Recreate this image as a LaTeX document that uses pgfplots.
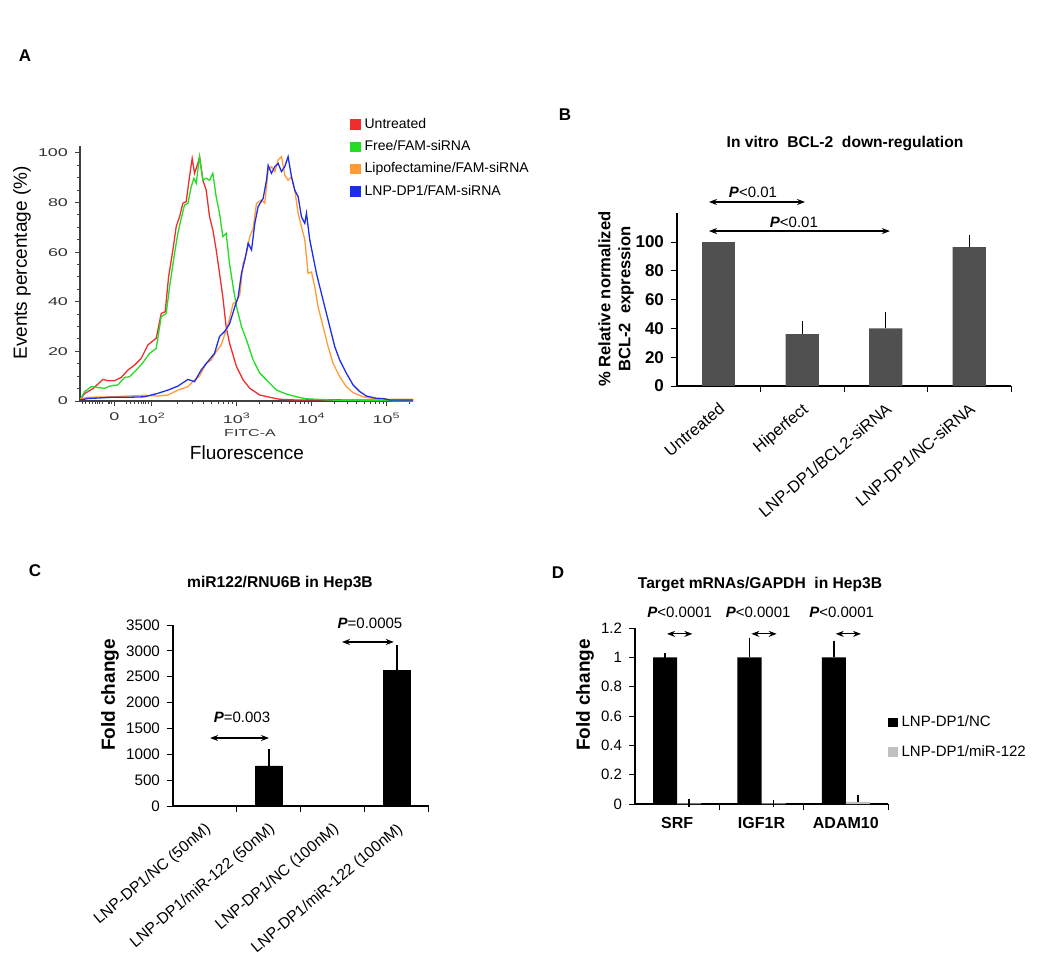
\documentclass[border=0pt]{standalone}
\usepackage{fontspec}
\setmainfont{Liberation Sans}
\newfontfamily\widefont[FakeStretch=1.6]{Liberation Sans}
\usepackage{pgfplots}
\pgfplotsset{compat=1.18}
\usetikzlibrary{arrows.meta}
\definecolor{cRed}{RGB}{240,45,45}
\definecolor{cGreen}{RGB}{35,220,35}
\definecolor{cOrange}{RGB}{255,155,55}
\definecolor{cBlue}{RGB}{30,45,235}
\definecolor{barB}{RGB}{80,80,80}
\definecolor{barGray}{RGB}{192,192,192}
\pgfplotsset{
  errs/.style={error bars/.cd, y dir=plus, y explicit,
    error bar style={draw=black, line width=0.7pt},
    error mark options={draw=black, line width=0.7pt, mark size=1.8pt}},
}
\tikzset{pp/.style={{Stealth[length=4pt,width=3pt]}-{Stealth[length=4pt,width=3pt]}, line width=0.6pt}}
\begin{document}
\begin{tikzpicture}
\path[use as bounding box] (0,0) rectangle (525pt,-477.5pt);

% panel letters
\node[font=\bfseries\fontsize{8.5}{9}\selectfont] at (12.5pt,-28pt) {A};
\node[font=\bfseries\fontsize{8.5}{9}\selectfont] at (282.5pt,-57.5pt) {B};
\node[font=\bfseries\fontsize{8.5}{9}\selectfont] at (17.5pt,-285.5pt) {C};
\node[font=\bfseries\fontsize{8.5}{9}\selectfont] at (279pt,-286.5pt) {D};

% ---------- A: flow histogram
\begin{axis}[
  at={(40pt,-200.5pt)}, anchor=south west,
  scale only axis, width=166.5pt, height=127.75pt,
  xmin=0.907, xmax=5.351, ymin=0, ymax=103,
  axis lines*=left, axis line style={-, line width=0.6pt, black!75},
  xtick={1.364,1.867,3,4,5},
  xticklabels={0,10\textsuperscript{2},10\textsuperscript{3},10\textsuperscript{4},10\textsuperscript{5}},
  minor xtick={0.942,0.987,1.031,1.076,1.111,1.142,1.173,1.209,1.284,1.307,1.329,1.529,1.587,1.64,1.684,1.729,1.76,1.787,1.818,
    2.208,2.408,2.549,2.659,2.749,2.825,2.890,2.948,
    3.301,3.477,3.602,3.699,3.778,3.845,3.903,3.954,
    4.301,4.477,4.602,4.699,4.778,4.845,4.903,4.954,5.301},
  ytick={0,20,...,100}, minor y tick num=3,
  tick align=outside, major tick length=2.5pt, minor tick length=1.5pt,
  tick style={black!75, line width=0.5pt},
  tick label style={font=\widefont\fontsize{5.6}{6}\selectfont, text=black!80},
  /pgf/number format/assume math mode=true,
  legend style={at={(0.81,1.125)}, anchor=north west, draw=none, fill=none,
    font=\fontsize{7}{8}\selectfont, row sep=0.6pt, inner sep=0pt},
  legend cell align=left,
  legend image code/.code={\fill[#1] (0pt,-2.3pt) rectangle (4.6pt,2.3pt);},
]
\addplot[cRed, line width=0.65pt] coordinates {(0.907,0.4)(0.969,3)(1.08,5)(1.213,8.7)(1.28,8.2)(1.369,8.2)(1.457,9.5)(1.547,12.5)(1.636,14.5)(1.724,17.2)(1.813,22.6)(1.924,25.3)(1.991,35.3)(2.044,36)(2.089,50)(2.147,61)(2.191,70.3)(2.236,74.3)(2.28,79.7)(2.324,80.4)(2.369,90.5)(2.404,97.8)(2.436,91.8)(2.48,95.8)(2.503,98.5)(2.547,89)(2.591,85)(2.636,74.3)(2.68,69)(2.724,61)(2.769,51.5)(2.813,42)(2.857,30)(2.903,23.3)(2.996,13.8)(3.084,8.5)(3.173,5.1)(3.307,2.4)(3.44,1.5)(3.573,0.7)(3.796,0.4)(4.062,0.5)(5.351,0.3)};
\addplot[cGreen, line width=0.65pt] coordinates {(0.907,0.4)(0.969,3.8)(1.058,5.8)(1.236,5.1)(1.302,6)(1.413,6.5)(1.502,9.5)(1.569,9.8)(1.658,12.5)(1.747,15.5)(1.836,19.2)(1.924,21.2)(1.991,34)(2.058,35.3)(2.102,46)(2.169,59.5)(2.213,67.6)(2.258,73.6)(2.302,79)(2.347,79.7)(2.391,86.4)(2.427,89.8)(2.458,87.8)(2.502,98.5)(2.547,89)(2.591,89.8)(2.636,89)(2.68,91.8)(2.724,82.4)(2.769,75.7)(2.813,66.3)(2.858,67.6)(2.902,55.5)(2.951,46)(2.996,38)(3.062,30)(3.129,24.6)(3.218,16.5)(3.307,11.2)(3.396,8.5)(3.529,4.4)(3.662,2.8)(3.796,1.7)(3.929,0.9)(4.062,0.7)(4.24,0.4)(4.5,0.2)(5.351,0)};
\addplot[cOrange, line width=0.65pt] coordinates {(0.907,0.7)(1.013,1.5)(1.324,1.7)(1.547,2)(1.769,2.3)(1.947,2)(2.08,2.4)(2.213,4.4)(2.347,5.8)(2.436,8.5)(2.502,10)(2.591,15.2)(2.658,16.5)(2.724,19.9)(2.791,22.6)(2.858,28.6)(2.902,33)(2.951,39.4)(2.996,40)(3.04,43)(3.084,55.5)(3.129,59.5)(3.173,66.3)(3.218,69.6)(3.262,79.7)(3.329,81)(3.373,79.7)(3.418,93)(3.462,94.5)(3.507,92.5)(3.551,97.2)(3.596,98.5)(3.64,91)(3.684,89)(3.729,90.5)(3.773,85)(3.818,75.7)(3.862,70.3)(3.907,65)(3.951,51.5)(3.996,52)(4.04,46)(4.084,38)(4.151,30)(4.218,21.9)(4.284,15.2)(4.373,9.8)(4.462,5.8)(4.551,3.4)(4.684,1.7)(4.818,1)(5.04,0.7)(5.351,0.7)};
\addplot[cBlue, line width=0.65pt] coordinates {(0.907,0.4)(1.013,1)(1.147,1.2)(1.324,1.5)(1.547,1.5)(1.769,1.7)(1.947,3.1)(2.08,4.4)(2.213,6)(2.347,8.7)(2.436,7.8)(2.524,12.5)(2.613,15.9)(2.702,19.2)(2.769,26)(2.836,28)(2.902,31)(2.973,38)(3.018,42)(3.062,51.5)(3.107,56.9)(3.151,63.6)(3.196,60.9)(3.24,71.6)(3.284,78.4)(3.351,81.7)(3.396,89)(3.418,95)(3.462,91.8)(3.507,94.5)(3.551,95.8)(3.596,92.5)(3.64,94.5)(3.684,98.5)(3.729,90.5)(3.773,85)(3.818,82.4)(3.862,74.3)(3.907,71.6)(3.929,75.7)(3.973,65)(4.018,58.2)(4.062,51.5)(4.107,46)(4.173,38)(4.24,30)(4.307,21.9)(4.373,16.5)(4.462,11.2)(4.551,6.5)(4.64,3.8)(4.729,2)(4.862,1.1)(4.951,1)(5.04,0.4)(5.351,0.4)};
\legend{Untreated,Free/FAM-siRNA,Lipofectamine/FAM-siRNA,LNP-DP1/FAM-siRNA}
\end{axis}
\node[font=\widefont\fontsize{5}{6}\selectfont, text=black!80] at (125pt,-216.5pt) {FITC-A};
\node[font=\fontsize{9.5}{11}\selectfont] at (123.5pt,-226.5pt) {Fluorescence};
\node[font=\fontsize{9.5}{11}\selectfont, rotate=90] at (11pt,-131.5pt) {Events percentage (\%)};

% ---------- B
\begin{axis}[
  at={(338.5pt,-193pt)}, anchor=south west,
  scale only axis, width=167pt, height=86.4pt,
  xmin=-0.5, xmax=3.5, ymin=0, ymax=120,
  axis lines*=left, axis line style={-, line width=0.6pt},
  ybar, bar width=0.4, bar shift=0pt,
  xtick={0,1,2,3},
  xticklabels={Untreated,Hiperfect,LNP-DP1/BCL2-siRNA,LNP-DP1/NC-siRNA},
  x tick label style={rotate=40, anchor=north east, font=\fontsize{8.2}{9}\selectfont},
  major x tick style={draw=none},
  minor xtick={0.5,1.5,2.5,3.5},
  ytick={0,20,...,100},
  y tick label style={font=\bfseries\fontsize{8.5}{9}\selectfont},
  /pgf/number format/assume math mode=true,
  tick align=outside, major tick length=3pt, minor tick length=3pt,
  tick style={line width=0.5pt, black},
  clip=false,
]
\addplot[fill=barB, draw=none] coordinates {(0,100)};
\addplot[fill=barB, draw=none, errs] coordinates {(1,36) +- (0,6.4) (2,40) +- (0,9) (3,96.5) +- (0,6)};
\draw[pp] (-0.117,127.8) -- (1.033,127.8);
\draw[pp] (-0.117,107.6) -- (2.05,107.6);
\node[font=\fontsize{7.5}{9}\selectfont] at (0.41,134.7) {\textbf{\textit{P}}<0.01};
\node[font=\fontsize{7.5}{9}\selectfont] at (0.90,113.9) {\textbf{\textit{P}}<0.01};
\end{axis}
\node[font=\bfseries\fontsize{7.8}{9}\selectfont] at (422.5pt,-71.5pt) {In vitro\ \ BCL-2\ \ down-regulation};
\node[font=\bfseries\fontsize{8.3}{10}\selectfont, rotate=90, align=center] at (308pt,-149.5pt) {\% Relative normalized\\BCL-2\ \ expression};

% ---------- C
\begin{axis}[
  at={(86.5pt,-403pt)}, anchor=south west,
  scale only axis, width=128pt, height=90.5pt,
  xmin=-0.5, xmax=3.5, ymin=0, ymax=3500,
  axis lines*=left, axis line style={-, line width=0.6pt},
  ybar, bar width=0.41, bar shift=0pt,
  xtick={0,1,2,3},
  xticklabels={LNP-DP1/NC (50nM),LNP-DP1/miR-122 (50nM),LNP-DP1/NC (100nM),LNP-DP1/miR-122 (100nM)},
  x tick label style={rotate=40, anchor=north east, font=\fontsize{7.8}{8}\selectfont},
  major x tick style={draw=none},
  minor xtick={0.5,1.5,2.5,3.5},
  ytick={0,500,...,3500},
  scaled y ticks=false,
  y tick label style={font=\fontsize{7.6}{9}\selectfont, /pgf/number format/set thousands separator={}},
  /pgf/number format/assume math mode=true,
  tick align=outside, major tick length=3pt, minor tick length=3pt,
  tick style={line width=0.5pt, black},
  clip=false,
]
\addplot[fill=black, draw=black, line width=0.4pt] coordinates {(0,15) (2,15)};
\addplot[fill=black, draw=black, line width=0.4pt, errs] coordinates {(1,775) +- (0,250) (3,2615) +- (0,420)};
\draw[pp] (0.08,1315) -- (1.0,1315);
\draw[pp] (2.14,3172) -- (2.95,3172);
\node[font=\fontsize{7.5}{9}\selectfont] at (0.578,1721) {\textbf{\textit{P}}=0.003};
\node[font=\fontsize{7.5}{9}\selectfont] at (2.578,3540) {\textbf{\textit{P}}=0.0005};
\end{axis}
\node[font=\bfseries\fontsize{7.8}{9}\selectfont] at (140pt,-291.5pt) {miR122/RNU6B in Hep3B};
\node[font=\bfseries\fontsize{9.5}{11}\selectfont, rotate=90] at (55pt,-347.5pt) {Fold change};

% ---------- D
\begin{axis}[
  at={(317.5pt,-402pt)}, anchor=south west,
  scale only axis, width=126.5pt, height=88pt,
  xmin=-0.5, xmax=2.5, ymin=0, ymax=1.2,
  axis lines*=left, axis line style={-, line width=0.6pt},
  ybar=0pt, bar width=0.285,
  xtick={0,1,2}, xticklabels={SRF,IGF1R,ADAM10},
  x tick label style={font=\bfseries\fontsize{8}{9}\selectfont},
  major x tick style={draw=none},
  minor xtick={0.5,1.5,2.5},
  ytick={0,0.2,0.4,0.6,0.8,1,1.2},
  y tick label style={font=\fontsize{7.5}{9}\selectfont},
  /pgf/number format/assume math mode=true,
  tick align=outside, major tick length=3pt, minor tick length=3pt,
  tick style={line width=0.5pt, black},
  clip=false,
  legend style={at={(1.0,0.38)}, anchor=west, draw=none, fill=none,
    font=\fontsize{7.5}{9}\selectfont, row sep=4pt, inner sep=0pt},
  legend cell align=left,
  legend image code/.code={\fill[#1] (0pt,-2.3pt) rectangle (4.6pt,2.3pt);},
]
\addplot[fill=black, draw=none, errs] coordinates {(0,1.0) +- (0,0.003) (1,1.0) +- (0,0.11) (2,1.0) +- (0,0.09)};
\addplot[fill=barGray, draw=none, errs] coordinates {(0,0.005) +- (0,0.002) (1,0.004) +- (0,0.002) (2,0.015) +- (0,0.022)};
\legend{LNP-DP1/NC,LNP-DP1/miR-122}
\draw[pp] (-0.12,1.16) -- (0.18,1.16);
\draw[pp] (0.88,1.16) -- (1.18,1.16);
\draw[pp] (1.88,1.16) -- (2.18,1.16);
\node[font=\fontsize{7.5}{9}\selectfont] at (0.03,1.31) {\textbf{\textit{P}}<0.0001};
\node[font=\fontsize{7.5}{9}\selectfont] at (0.96,1.31) {\textbf{\textit{P}}<0.0001};
\node[font=\fontsize{7.5}{9}\selectfont] at (1.95,1.31) {\textbf{\textit{P}}<0.0001};
\end{axis}
\node[font=\bfseries\fontsize{7.8}{9}\selectfont] at (380pt,-292pt) {Target mRNAs/GAPDH\ \ in Hep3B};
\node[font=\bfseries\fontsize{9.5}{11}\selectfont, rotate=90] at (292.5pt,-347.5pt) {Fold change};
\end{tikzpicture}
\end{document}
